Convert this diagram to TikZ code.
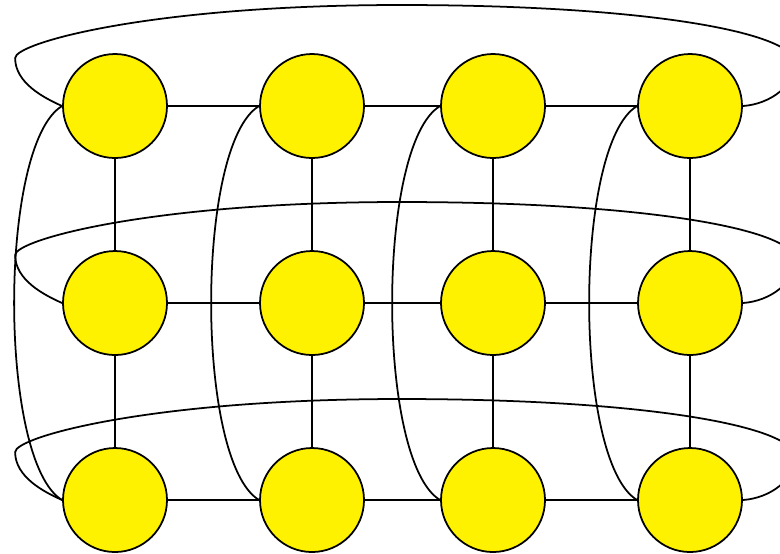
\documentclass[tikz,border=0pt]{standalone}
\usepackage{tikz}
\usetikzlibrary{positioning}

\begin{document}
\begin{tikzpicture}[line width=0.5pt,
  vertex/.style={circle, draw, fill=yellow, minimum size=1.04cm, inner sep=0pt}]
  \useasboundingbox (0,0) rectangle (7.8,-5.53);
  % grid nodes
  \node[vertex] (v11) at (1.15,-1.06) {};
  \node[vertex] (v12) at (3.12,-1.06) {};
  \node[vertex] (v13) at (4.93,-1.06) {};
  \node[vertex] (v14) at (6.90,-1.06) {};
  \node[vertex] (v21) at (1.15,-3.03) {};
  \node[vertex] (v22) at (3.12,-3.03) {};
  \node[vertex] (v23) at (4.93,-3.03) {};
  \node[vertex] (v24) at (6.90,-3.03) {};
  \node[vertex] (v31) at (1.15,-5.00) {};
  \node[vertex] (v32) at (3.12,-5.00) {};
  \node[vertex] (v33) at (4.93,-5.00) {};
  \node[vertex] (v34) at (6.90,-5.00) {};
  % rows
  \draw (v11) -- (v12) -- (v13) -- (v14);
  \draw (v21) -- (v22) -- (v23) -- (v24);
  \draw (v31) -- (v32) -- (v33) -- (v34);
  % columns
  \draw (v11) -- (v21) -- (v31);
  \draw (v12) -- (v22) -- (v32);
  \draw (v13) -- (v23) -- (v33);
  \draw (v14) -- (v24) -- (v34);
  % wrap-around, left to right
  \draw (v11.west) .. controls +(-0.18,0.08) and +(0,-0.25) .. ++(-0.47,0.48)
    .. controls +(0,0.15) and +(-2.5,0) .. ++(3.85,0.53)
    .. controls +(2.5,0) and +(0,0.30) .. ++(3.95,-0.58)
    .. controls +(0,-0.22) and +(0.28,0.02) .. (v14.east);
  \draw (v21.west) .. controls +(-0.18,0.08) and +(0,-0.25) .. ++(-0.47,0.48)
    .. controls +(0,0.15) and +(-2.5,0) .. ++(3.85,0.53)
    .. controls +(2.5,0) and +(0,0.30) .. ++(3.95,-0.58)
    .. controls +(0,-0.22) and +(0.28,0.02) .. (v24.east);
  \draw (v31.west) .. controls +(-0.18,0.08) and +(0,-0.25) .. ++(-0.47,0.48)
    .. controls +(0,0.15) and +(-2.5,0) .. ++(3.85,0.53)
    .. controls +(2.5,0) and +(0,0.30) .. ++(3.95,-0.58)
    .. controls +(0,-0.22) and +(0.28,0.02) .. (v34.east);
  % wrap-around, top to bottom
  \draw (v11.west) .. controls +(-0.64,-0.38) and +(-0.64,0.38) .. (v31.west);
  \draw (v12.west) .. controls +(-0.64,-0.38) and +(-0.64,0.38) .. (v32.west);
  \draw (v13.west) .. controls +(-0.64,-0.38) and +(-0.64,0.38) .. (v33.west);
  \draw (v14.west) .. controls +(-0.64,-0.38) and +(-0.64,0.38) .. (v34.west);
\end{tikzpicture}
\end{document}
